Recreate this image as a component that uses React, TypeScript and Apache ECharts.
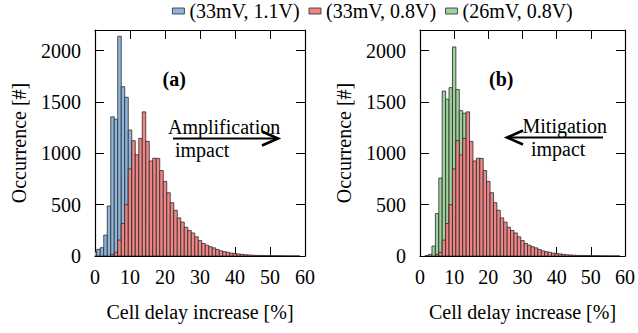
import React, { useEffect, useRef } from "react";
import * as echarts from "echarts";

// ---- data (histograms, 1 % wide bins centred on integer % values) ----
const seriesNames = ["(33mV, 1.1V)", "(33mV, 0.8V)", "(26mV, 0.8V)"];
const binWidth = 1;
// counts for bins centred at 0, 1, 2, ... %
const blueCounts = [40, 65, 81, 203, 487, 1355, 1332, 2139, 1648, 1545, 1226, 1000, 820, 650, 480, 330, 210, 120, 60, 25, 10];
const pinkCounts = [0, 0, 0, 0, 0, 16, 35, 155, 316, 500, 848, 1123, 985, 1145, 1403, 1116, 925, 952, 950, 832, 726, 616, 519, 445, 371, 330, 280, 248, 224, 187, 150, 122, 105, 90, 79, 63, 50, 42, 36, 28, 24, 20, 16, 12, 10, 8, 6, 6, 5, 4, 4, 3, 3, 2, 2, 1, 1, 1, 1];
const greenCounts = [0, 0, 5, 16, 97, 413, 758, 1606, 1526, 1639, 2035, 1620, 1415, 1390, 1000, 700, 450, 280, 160, 90, 50, 25, 10];
const xTickStep = 10;
const yTickStep = 500;
const yLastLabel = 2000;
const xRange = [0, 60];
const yRange = [0, 2200];

const COLORS = { blue: "#8fb5dc", pink: "#f08585", green: "#9dd29d", edge: "#2a2a2a" };
const FONT = "Liberation Serif";

const toPairs = (counts: number[]) =>
  counts.map((c, i) => [i, c]).filter((p) => p[1] > 0);

const renderBar = (color: string) => (params: any, api: any) => {
  const center = api.value(0);
  const count = api.value(1);
  const tl = api.coord([center - binWidth / 2, count]);
  const br = api.coord([center + binWidth / 2, 0]);
  return {
    type: "rect",
    shape: { x: tl[0], y: tl[1], width: br[0] - tl[0], height: br[1] - tl[1] },
    style: { fill: color, stroke: COLORS.edge, lineWidth: 0.8 },
  };
};

const ts = () => ({ fontFamily: FONT, fontSize: 20, color: "#000" });
const yLabel = (v: number) => (v > yLastLabel ? "" : String(v));
const axisLine = () => ({ show: true, onZero: false, lineStyle: { color: "#000", width: 1.2 } });
const axisTick = () => ({ show: true, inside: true, length: 9, lineStyle: { color: "#000", width: 1 } });

function xAxes(gridIndex: number) {
  return [
    {
      type: "value", gridIndex, min: xRange[0], max: xRange[1], interval: xTickStep, position: "bottom",
      axisLine: axisLine(), axisTick: axisTick(),
      axisLabel: { ...ts(), margin: 11 },
      splitLine: { show: false },
      name: "Cell delay increase [%]", nameLocation: "middle", nameGap: 46,
      nameTextStyle: ts(),
    },
    {
      type: "value", gridIndex, min: xRange[0], max: xRange[1], interval: xTickStep, position: "top",
      axisLine: axisLine(), axisTick: axisTick(),
      axisLabel: { show: false }, splitLine: { show: false },
    },
  ];
}

function yAxes(gridIndex: number) {
  return [
    {
      type: "value", gridIndex, min: yRange[0], max: yRange[1], interval: yTickStep, position: "left",
      axisLine: axisLine(), axisTick: axisTick(),
      axisLabel: { ...ts(), margin: 14, formatter: yLabel, showMaxLabel: false },
      splitLine: { show: false },
      name: "Occurrence [#]", nameLocation: "middle", nameGap: 66,
      nameTextStyle: ts(),
    },
    {
      type: "value", gridIndex, min: yRange[0], max: yRange[1], interval: yTickStep, position: "right",
      axisLine: axisLine(), axisTick: axisTick(),
      axisLabel: { show: false }, splitLine: { show: false },
    },
  ];
}

function hist(name: string, counts: number[], color: string, axisIndex: number) {
  return {
    type: "custom", name, xAxisIndex: axisIndex, yAxisIndex: axisIndex,
    clip: true, data: toPairs(counts), renderItem: renderBar(color),
    itemStyle: { color, borderColor: COLORS.edge, borderWidth: 0.8 },
    encode: { x: 0, y: 1 },
  };
}

function arrow(x1: number, x2: number, y: number, dir: number) {
  const tip = dir > 0 ? x2 : x1;
  const back = tip - dir * 16;
  return [
    { type: "line", shape: { x1, y1: y, x2, y2: y }, style: { stroke: "#000", lineWidth: 2.2 } },
    {
      type: "polyline",
      shape: { points: [[back, y - 7], [tip, y], [back, y + 7]] },
      style: { stroke: "#000", lineWidth: 2.6, fill: null },
    },
  ];
}

function txt(x: number, y: number, text: string, bold = false) {
  return {
    type: "text", x, y,
    style: { text, fontFamily: FONT, fontSize: 20, fontWeight: bold ? "bold" : "normal", fill: "#000", align: "left", verticalAlign: "middle" },
  };
}

export default function App() {
  const ref = useRef<HTMLDivElement>(null);
  useEffect(() => {
    if (!ref.current) return;
    const chart = echarts.init(ref.current, null, { renderer: "svg" });
    chart.setOption({
      animation: false,
      backgroundColor: "#fff",
      textStyle: ts(),
      legend: {
        data: seriesNames.slice(), left: 172, top: 1, padding: 0, itemGap: 9,
        itemWidth: 12, itemHeight: 6, icon: "rect",
        textStyle: ts(),
        itemStyle: { borderColor: COLORS.edge, borderWidth: 0.8 },
      },
      grid: [
        { left: 95, top: 30, width: 210, height: 226 },
        { left: 420, top: 30, width: 210, height: 226 },
      ],
      xAxis: [...xAxes(0), ...xAxes(1)],
      yAxis: [...yAxes(0), ...yAxes(1)],
      series: [
        hist(seriesNames[0], blueCounts, COLORS.blue, 0),
        hist(seriesNames[1], pinkCounts, COLORS.pink, 0),
        hist(seriesNames[2], greenCounts, COLORS.green, 2),
        hist(seriesNames[1], pinkCounts, COLORS.pink, 2),
      ],
      graphic: [
        txt(162.5, 79, "(a)", true),
        txt(489, 79, "(b)", true),
        txt(168, 127, "Amplification"),
        ...arrow(173, 278, 138.5, 1),
        txt(175, 150, "impact"),
        txt(522.5, 126, "Mitigation"),
        ...arrow(507, 603, 137.5, -1),
        txt(531, 149, "impact"),
      ],
    });
    return () => chart.dispose();
  }, []);
  return (
    <div
      ref={ref}
      style={{ position: "fixed", left: 0, top: 0, width: 638, height: 333, background: "#fff" }}
    />
  );
}
